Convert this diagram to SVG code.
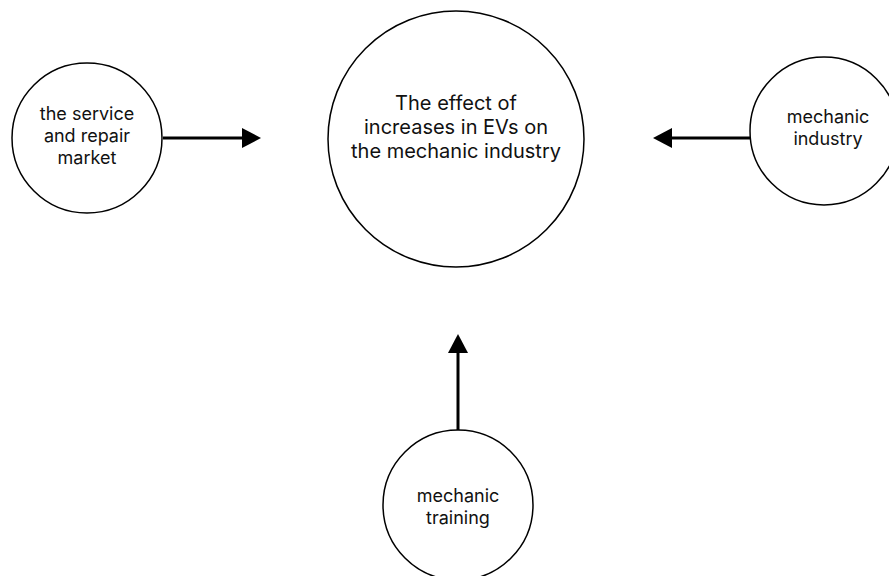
<svg xmlns="http://www.w3.org/2000/svg" width="889" height="576" viewBox="0 0 889 576">
<style>
.node circle{fill:#fff;stroke:#000;stroke-width:1.5}
.node text{font-family:Inter,"Noto Sans",sans-serif;fill:#111;text-anchor:middle}
.big{font-size:20px}
.small{font-size:18px}
.conn line{stroke:#000;stroke-width:3}
</style>
<defs>
<marker id="ah" markerUnits="userSpaceOnUse" markerWidth="20" markerHeight="20" viewBox="0 0 20 20" refX="2" refY="10" orient="auto">
<path d="M0,0 L19,10 L0,20 Z" fill="#000"/>
</marker>
</defs>
<rect width="889" height="576" fill="#fff"/>
<g id="connectors" class="conn">
<line x1="163" y1="138" x2="244" y2="138" marker-end="url(#ah)"/>
<line x1="750" y1="138" x2="670" y2="138" marker-end="url(#ah)"/>
<line x1="458" y1="430" x2="458" y2="351" marker-end="url(#ah)"/>
</g>
<g id="center" class="node">
<circle cx="456" cy="139" r="128"/>
<text class="big" x="456" y="110">The effect of</text>
<text class="big" x="456" y="134">increases in EVs on</text>
<text class="big" x="456" y="158">the mechanic industry</text>
</g>
<g id="service" class="node">
<circle cx="87" cy="138" r="75"/>
<text class="small" x="87" y="120">the service</text>
<text class="small" x="87" y="142">and repair</text>
<text class="small" x="87" y="164">market</text>
</g>
<g id="industry" class="node">
<circle cx="824" cy="131" r="74"/>
<text class="small" x="828" y="123">mechanic</text>
<text class="small" x="828" y="145">industry</text>
</g>
<g id="training" class="node">
<circle cx="458" cy="505" r="75"/>
<text class="small" x="458" y="502">mechanic</text>
<text class="small" x="458" y="524">training</text>
</g>
</svg>
